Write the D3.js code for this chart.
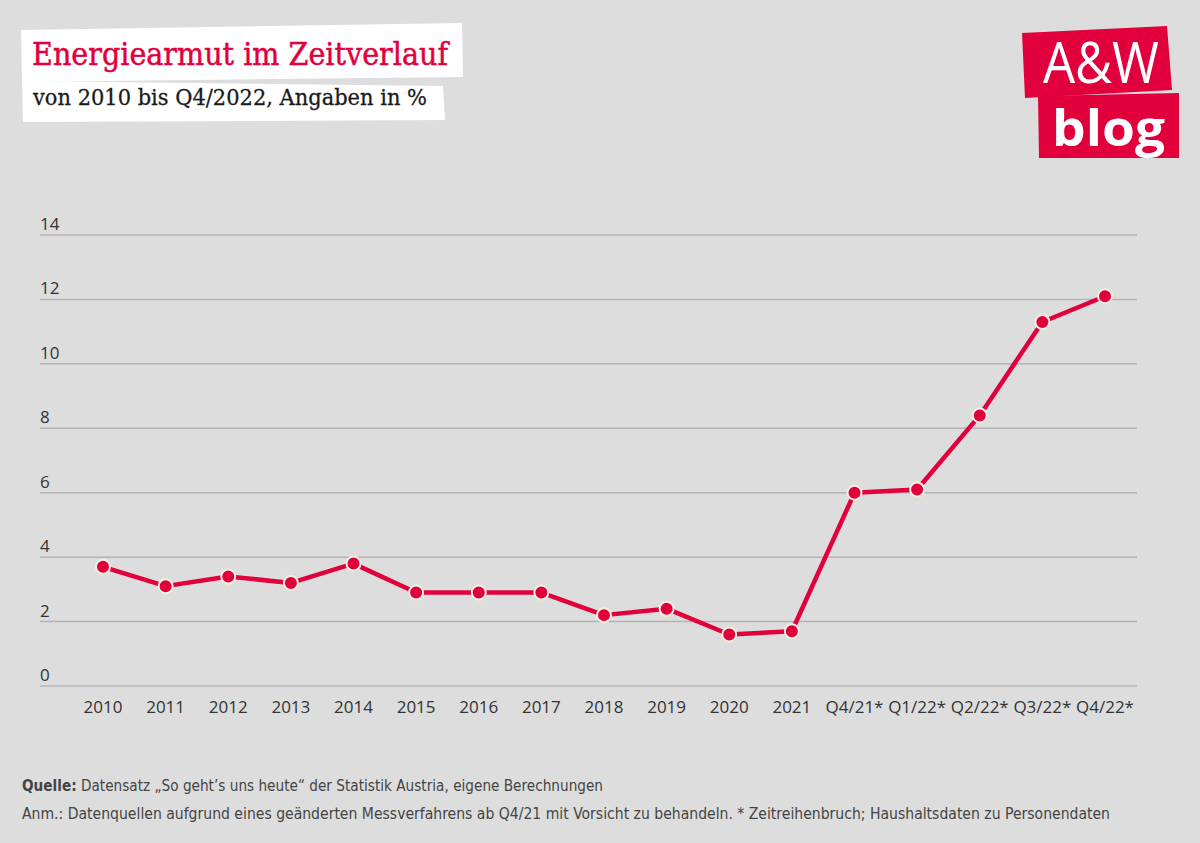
<!DOCTYPE html>
<html><head><meta charset="utf-8">
<script src="https://cdn.jsdelivr.net/npm/d3@7"></script>
<style>
html,body{margin:0;padding:0;background:#dddddd;}
svg{display:block;}
</style></head>
<body>
<svg id="chart" width="1200" height="843"></svg>
<script>
const categories = ["2010","2011","2012","2013","2014","2015","2016","2017","2018","2019","2020","2021","Q4/21*","Q1/22*","Q2/22*","Q3/22*","Q4/22*"];
const values = [3.7,3.1,3.4,3.2,3.8,2.9,2.9,2.9,2.2,2.4,1.6,1.7,6.0,6.1,8.4,11.3,12.1];
const yTicks = [0,2,4,6,8,10,12,14];
const titleText = "Energiearmut im Zeitverlauf";
const subtitleText = "von 2010 bis Q4/2022, Angaben in %";
const sourceLabel = "Quelle:";
const sourceText = " Datensatz „So geht’s uns heute“ der Statistik Austria, eigene Berechnungen";
const noteText = "Anm.: Datenquellen aufgrund eines geänderten Messverfahrens ab Q4/21 mit Vorsicht zu behandeln. * Zeitreihenbruch; Haushaltsdaten zu Personendaten";

const red = "#e2003c";
const svg = d3.select("#chart");
svg.append("rect").attr("width",1200).attr("height",843).attr("fill","#dddddd");

// Title boxes
svg.append("polygon").attr("points","21,30 462,23 463,77 22,82").attr("fill","#ffffff");
svg.append("polygon").attr("points","22,81 443,86 445,120 23,122").attr("fill","#ffffff");
svg.append("text").attr("x",32).attr("y",65).attr("font-family","'DejaVu Serif', serif")
  .attr("font-size",31).attr("fill",red).attr("stroke",red).attr("stroke-width",0.5)
  .attr("textLength",416).attr("lengthAdjust","spacingAndGlyphs").text(titleText);
svg.append("text").attr("x",33).attr("y",105).attr("font-family","'DejaVu Serif', serif")
  .attr("font-size",23).attr("fill","#1a1a1a").attr("stroke","#1a1a1a").attr("stroke-width",0.3)
  .attr("textLength",394).attr("lengthAdjust","spacingAndGlyphs").text(subtitleText);

// Logo
svg.append("polygon").attr("points","1022,33 1167,26 1172,90 1025,98").attr("fill",red);
svg.append("polygon").attr("points","1038,96 1179,93 1179,158 1039,158").attr("fill",red);
svg.append("text").attr("x",1043).attr("y",83).attr("font-family","'Open Sans', sans-serif").attr("font-weight",400)
  .attr("font-size",56).attr("fill","#fff").attr("textLength",116).attr("lengthAdjust","spacingAndGlyphs").text("A&W");
svg.append("text").attr("x",1052).attr("y",146).attr("font-family","'Open Sans', sans-serif").attr("font-weight",700)
  .attr("font-size",50).attr("fill","#fff").attr("textLength",113).attr("lengthAdjust","spacingAndGlyphs").text("blog");

// Scales
const x = d3.scalePoint().domain(categories).range([103,1105]);
const y = d3.scaleLinear().domain([0,14]).range([686,235]);

const g = svg.append("g");
g.selectAll("line.grid").data(yTicks).join("line").attr("class","grid")
  .attr("x1",40).attr("x2",1137).attr("y1",d=>y(d)).attr("y2",d=>y(d))
  .attr("stroke","#b4b4b4").attr("stroke-width",1.5);
g.selectAll("text.ylab").data(yTicks).join("text").attr("class","ylab")
  .attr("x",40).attr("y",d=>y(d)-5).attr("font-family","'Open Sans', sans-serif")
  .attr("font-size",17).attr("fill","#333").text(d=>d);
g.selectAll("text.xlab").data(categories).join("text").attr("class","xlab")
  .attr("x",d=>x(d)).attr("y",713).attr("text-anchor","middle").attr("font-family","'Open Sans', sans-serif")
  .attr("font-size",17).attr("fill","#333").text(d=>d);

const data = categories.map((c,i)=>({c, v: values[i]}));
g.append("path").datum(data).attr("fill","none").attr("stroke",red).attr("stroke-width",4.5)
  .attr("stroke-linejoin","round")
  .attr("d", d3.line().x(d=>x(d.c)).y(d=>y(d.v)));
g.selectAll("circle.pt").data(data).join("circle").attr("class","pt")
  .attr("cx",d=>x(d.c)).attr("cy",d=>y(d.v)).attr("r",7)
  .attr("fill",red).attr("stroke","#f3efdf").attr("stroke-width",2);

const f1 = svg.append("text").attr("x",22).attr("y",791).attr("font-family","'DejaVu Sans Condensed','Open Sans', sans-serif")
  .attr("font-size",15).attr("fill","#444").attr("textLength",581).attr("lengthAdjust","spacingAndGlyphs");
f1.append("tspan").attr("font-weight",700).text(sourceLabel);
f1.append("tspan").text(sourceText);
svg.append("text").attr("x",22).attr("y",819).attr("font-family","'DejaVu Sans Condensed','Open Sans', sans-serif")
  .attr("font-size",15).attr("fill","#444").attr("textLength",1088).attr("lengthAdjust","spacingAndGlyphs").text(noteText);
</script>
</body></html>
